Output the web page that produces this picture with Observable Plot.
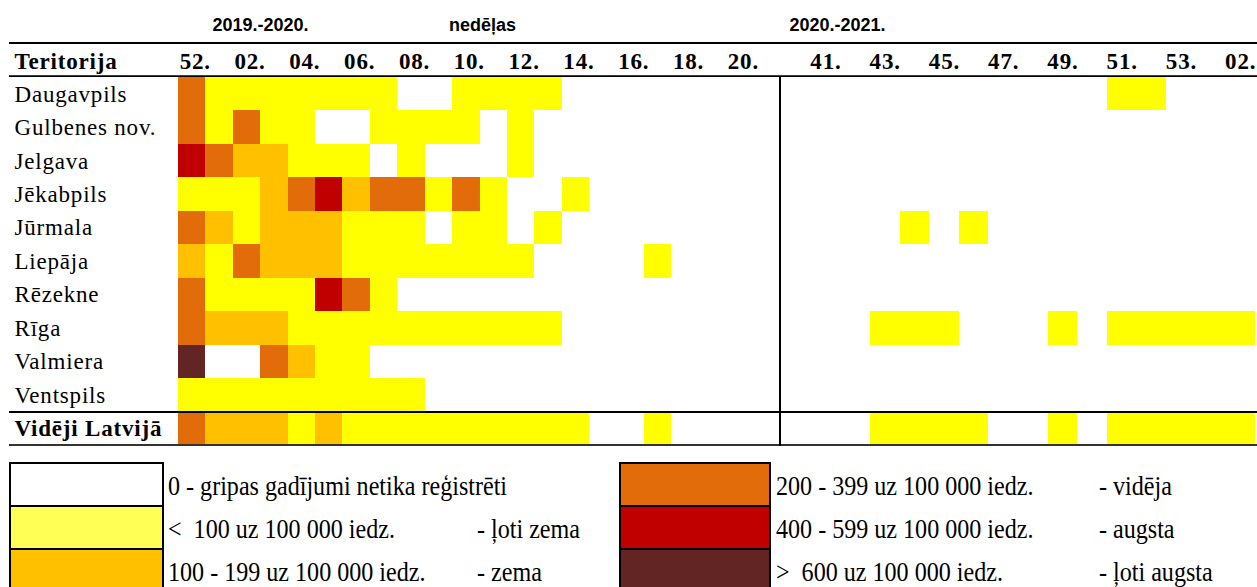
<!DOCTYPE html>
<html>
<head>
<meta charset="utf-8">
<script src="https://cdn.jsdelivr.net/npm/d3@7"></script>
<script src="https://cdn.jsdelivr.net/npm/@observablehq/plot@0.6"></script>
<style>
html, body { margin: 0; padding: 0; background: #fff; }
#wrap { position: relative; width: 1257px; height: 587px; overflow: hidden; background: #fff; }
#top { position: absolute; left: 0; top: 0; display: flex; }
#top svg { display: block; }
g[font-family*="Serif"] text { letter-spacing: 0.8px; }
.box { position: absolute; box-sizing: border-box; border: 2px solid #000; }
.sw { box-sizing: border-box; height: 43px; border-bottom: 2px solid #000; }
.lg { position: absolute; height: 43px; line-height: 43px; white-space: nowrap;
      font-family: "Liberation Serif", "Times New Roman", serif; font-size: 28px; color: #000;
      transform: scaleX(0.86); transform-origin: 0 50%; }
</style>
</head>
<body>
<div id="wrap">
  <div id="top"></div>
  <div id="legend"></div>
</div>
<script>
// ---------- data ----------
const territories = ["Daugavpils", "Gulbenes nov.", "Jelgava", "Jēkabpils", "Jūrmala", "Liepāja",
                     "Rēzekne", "Rīga", "Valmiera", "Ventspils", "Vidēji Latvijā"];
const weeks1 = [52, 1, 2, 3, 4, 5, 6, 7, 8, 9, 10, 11, 12, 13, 14, 15, 16, 17, 18, 19, 20, 21];
const weeks2 = [40, 41, 42, 43, 44, 45, 46, 47, 48, 49, 50, 51, 52, 53, 1, 2];
const tickWeeks1 = [52, 2, 4, 6, 8, 10, 12, 14, 16, 18, 20];
const tickWeeks2 = [41, 43, 45, 47, 49, 51, 53, 2];
const season1Label = "2019.-2020.";
const weeksLabel = "nedēļas";
const season2Label = "2020.-2021.";
const rowHeader = "Teritorija";

// intensity level: 0 none, 1 <100, 2 100-199, 3 200-399, 4 400-599, 5 >600
const levels1 = [
  [3,1,1,1,1,1,1,1,0,0,1,1,1,1,0,0,0,0,0,0,0,0], // Daugavpils
  [3,1,3,1,1,0,0,1,1,1,1,0,1,0,0,0,0,0,0,0,0,0], // Gulbenes nov.
  [4,3,2,2,1,1,1,0,1,0,0,0,1,0,0,0,0,0,0,0,0,0], // Jelgava
  [1,1,1,2,3,4,2,3,3,1,3,1,0,0,1,0,0,0,0,0,0,0], // Jēkabpils
  [3,2,1,2,2,2,1,1,1,0,1,1,0,1,0,0,0,0,0,0,0,0], // Jūrmala
  [2,1,3,2,2,2,1,1,1,1,1,1,1,0,0,0,0,1,0,0,0,0], // Liepāja
  [3,1,1,1,1,4,3,1,0,0,0,0,0,0,0,0,0,0,0,0,0,0], // Rēzekne
  [3,2,2,2,1,1,1,1,1,1,1,1,1,1,0,0,0,0,0,0,0,0], // Rīga
  [5,0,0,3,2,1,1,0,0,0,0,0,0,0,0,0,0,0,0,0,0,0], // Valmiera
  [1,1,1,1,1,1,1,1,1,0,0,0,0,0,0,0,0,0,0,0,0,0], // Ventspils
  [3,2,2,2,1,2,1,1,1,1,1,1,1,1,1,0,0,1,0,0,0,0]  // Vidēji Latvijā
];
const levels2 = [
  [0,0,0,0,0,0,0,0,0,0,0,1,1,0,0,0], // Daugavpils
  [0,0,0,0,0,0,0,0,0,0,0,0,0,0,0,0], // Gulbenes nov.
  [0,0,0,0,0,0,0,0,0,0,0,0,0,0,0,0], // Jelgava
  [0,0,0,0,0,0,0,0,0,0,0,0,0,0,0,0], // Jēkabpils
  [0,0,0,0,1,0,1,0,0,0,0,0,0,0,0,0], // Jūrmala
  [0,0,0,0,0,0,0,0,0,0,0,0,0,0,0,0], // Liepāja
  [0,0,0,0,0,0,0,0,0,0,0,0,0,0,0,0], // Rēzekne
  [0,0,0,1,1,1,0,0,0,1,0,1,1,1,1,1], // Rīga
  [0,0,0,0,0,0,0,0,0,0,0,0,0,0,0,0], // Valmiera
  [0,0,0,0,0,0,0,0,0,0,0,0,0,0,0,0], // Ventspils
  [0,0,0,1,1,1,1,0,0,1,0,1,1,1,1,1]  // Vidēji Latvijā
];

const levelDomain = [0, 1, 2, 3, 4, 5];
const levelColors = ["#ffffff", "#ffff00", "#ffc000", "#e36c0a", "#c00000", "#632523"];
const legendColors = ["#ffffff", "#ffff55", "#ffc000", "#e36c0a", "#c00000", "#632523"];
const legendRanges = ["0 - gripas gadījumi netika reģistrēti", "<\u00a0 100 uz 100 000 iedz.", "100 - 199 uz 100 000 iedz.",
                      "200 - 399 uz 100 000 iedz.", "400 - 599 uz 100 000 iedz.", ">\u00a0 600 uz 100 000 iedz."];
const legendNotes = ["", "- ļoti zema", "- zema", "- vidēja", "- augsta", "- ļoti augsta"];

// ---------- layout ----------
const serif = "Liberation Serif, Times New Roman, serif";
const sans = "Liberation Sans, Arial, sans-serif";
const H = 448, MT = 77, MB = 3;
const FS = 23;
const fmtWeek = w => String(w).padStart(2, "0") + ".";

const toCells = (weeks, levels) =>
  territories.flatMap((t, i) => weeks.map((w, j) => ({territory: t, week: w, level: levels[i][j]})));
const cells1 = toCells(weeks1, levels1);
const cells2 = toCells(weeks2, levels2);

const common = {
  height: H, marginTop: MT, marginBottom: MB,
  style: {background: "white", overflow: "visible"},
  y: {type: "band", domain: territories, padding: 0, round: false, axis: null},
  color: {type: "ordinal", domain: levelDomain, range: levelColors}
};
const titleOpts = {frameAnchor: "top-left", dy: -47, lineAnchor: "bottom", textAnchor: "middle",
  fontSize: 18, fontWeight: "bold", fontFamily: sans};

const plotA = Plot.plot({
  ...common,
  width: 781, marginLeft: 178, marginRight: 0,
  x: {type: "band", domain: weeks1, padding: 0, round: false, axis: null},
  marks: [
    Plot.cell(cells1, {x: "week", y: "territory", fill: "level", inset: 0, shapeRendering: "crispEdges"}),
    Plot.axisX(tickWeeks1, {anchor: "top", label: null, tickSize: 0, tickPadding: 9, dx: 3, tickFormat: fmtWeek,
      fontSize: FS, fontWeight: "bold", fontFamily: serif}),
    Plot.text(territories.slice(0, -1), {y: d => d, frameAnchor: "left", dx: -164, textAnchor: "start",
      fontSize: FS, fontFamily: serif}),
    Plot.text(territories.slice(-1), {y: d => d, frameAnchor: "left", dx: -164, textAnchor: "start",
      fontSize: FS, fontWeight: "bold", fontFamily: serif}),
    Plot.text([rowHeader], {frameAnchor: "top-left", dx: -164, dy: -9, lineAnchor: "bottom", textAnchor: "start",
      fontSize: FS, fontWeight: "bold", fontFamily: serif}),
    Plot.text([season1Label], {...titleOpts, dx: 82}),
    Plot.text([weeksLabel], {...titleOpts, dx: 304})
  ]
});

const plotB = Plot.plot({
  ...common,
  width: 476, marginLeft: 0, marginRight: 2,
  x: {type: "band", domain: weeks2, padding: 0, round: false, axis: null},
  marks: [
    Plot.cell(cells2, {x: "week", y: "territory", fill: "level", inset: 0, shapeRendering: "crispEdges"}),
    Plot.axisX(tickWeeks2, {anchor: "top", label: null, tickSize: 0, tickPadding: 9, dx: 0, tickFormat: fmtWeek,
      fontSize: FS, fontWeight: "bold", fontFamily: serif}),
    Plot.text([season2Label], {...titleOpts, dx: 56})
  ]
});

// table rules, positioned from the plot's own y scale
function decorate(svg, x1, x2, withDivider) {
  const ys = svg.scale("y");
  const top = ys.apply(territories[0]);
  const avgTop = ys.apply(territories[territories.length - 1]);
  const bottom = avgTop + ys.bandwidth;
  const g = d3.select(svg).append("g").attr("stroke", "#000");
  const h = (y, w, c) => g.append("line").attr("x1", x1).attr("x2", x2).attr("y1", y).attr("y2", y)
    .attr("stroke-width", w).attr("stroke", c || "#000");
  h(43, 2);
  h(top - 0.9, 1.8);
  h(avgTop + 0.5, 2);
  h(bottom, 2, "#333");
  if (withDivider) {
    g.append("line").attr("x1", 780).attr("x2", 780).attr("y1", top - 1).attr("y2", bottom + 1).attr("stroke-width", 2);
  }
}
decorate(plotA, 9, 781, true);
decorate(plotB, 0, 476, false);

document.getElementById("top").append(plotA, plotB);

// ---------- legend ----------
const legend = document.getElementById("legend");
const groups = [{boxX: 9, boxW: 155, textX: 168, noteX: 477, idx: [0, 1, 2]},
                {boxX: 619, boxW: 152, textX: 776, noteX: 1099, idx: [3, 4, 5]}];
const legendTop = 462;
groups.forEach(gp => {
  const box = document.createElement("div");
  box.className = "box";
  box.style.left = gp.boxX + "px";
  box.style.top = legendTop + "px";
  box.style.width = gp.boxW + "px";
  box.style.height = "140px";
  gp.idx.forEach((k, r) => {
    const sw = document.createElement("div");
    sw.className = "sw";
    sw.style.background = legendColors[k];
    box.appendChild(sw);
    const t = document.createElement("div");
    t.className = "lg";
    t.style.left = gp.textX + "px";
    t.style.top = (legendTop + 2 + r * 43) + "px";
    t.textContent = legendRanges[k];
    legend.appendChild(t);
    if (legendNotes[k]) {
      const n = document.createElement("div");
      n.className = "lg";
      n.style.left = gp.noteX + "px";
      n.style.top = (legendTop + 2 + r * 43) + "px";
      n.textContent = legendNotes[k];
      legend.appendChild(n);
    }
  });
  legend.appendChild(box);
});
</script>
</body>
</html>
